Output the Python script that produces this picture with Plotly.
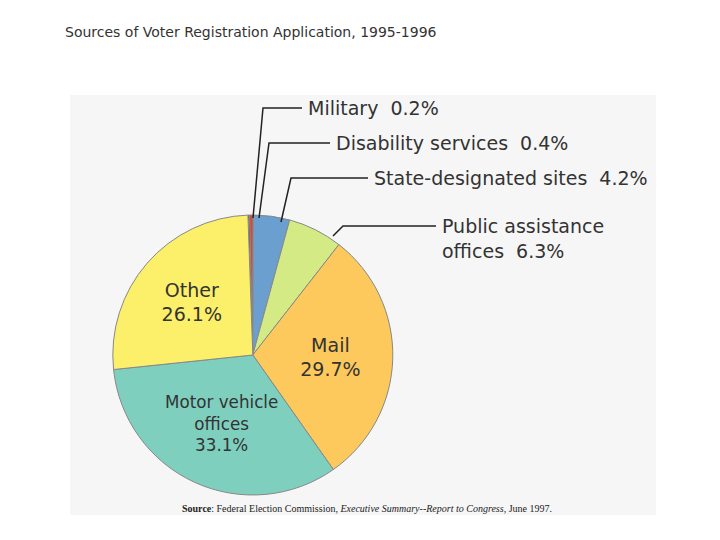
import plotly.graph_objects as go

sources = ["Military", "Disability services", "State-designated sites", "Public assistance offices",
           "Mail", "Motor vehicle offices", "Other"]
shares = [0.2, 0.4, 4.2, 6.3, 29.7, 33.1, 26.1]
inside_text = ["", "", "", "", "Mail<br>29.7%", "Motor vehicle<br>offices<br>33.1%", "Other<br>26.1%"]
colours = ["#4a4a4a", "#d9453a", "#6a9fcf", "#d4eb85", "#fdc95c", "#7fcfbf", "#fcef6a"]

DEC = 8  # décalage vertical de la page


def py(y):
    return 1 - (y - DEC) / 540


fig = go.Figure(go.Pie(
    labels=sources, values=shares, text=inside_text, textinfo="text",
    textposition="inside", insidetextorientation="horizontal",
    sort=False, direction="clockwise", rotation=-2,
    marker=dict(colors=colours, line=dict(color="#888888", width=1)),
    textfont=dict(family="DejaVu Sans", size=19, color="#333333"),
    domain=dict(x=[0.10, 0.58], y=[py(495), py(215)]),
    showlegend=False, hoverinfo="label+value",
))

# fond gris de l'image
fig.add_shape(type="rect", xref="paper", yref="paper", x0=62/720, x1=648/720,
              y0=py(515), y1=py(95), fillcolor="#f6f6f6", line_width=0, layer="below")

# étiquettes des petites parts avec leurs traits
petites = [
    ("Military  0.2%", 298, 108, 245, 218, 108),
    ("Disability services  0.4%", 326, 143, 251, 218, 143),
    ("State-designated sites  4.2%", 364, 178, 273, 222, 178),
    ("Public assistance<br>offices  6.3%", 432, 238, 325, 236, 226),
]
for texte, tx, ty, px_, py_, ly in petites:
    fig.add_annotation(text=texte, x=tx/720, y=py(ty), xref="paper", yref="paper",
                       xanchor="left", yanchor="middle", showarrow=False, align="left",
                       font=dict(family="DejaVu Sans", size=19, color="#333333"))
    fig.add_shape(type="path", xref="paper", yref="paper",
                  path=f"M {(tx-4)/720} {py(ly)} L {(px_+10)/720} {py(ly)} L {px_/720} {py(py_)}",
                  line=dict(color="#222222", width=1.5))

fig.add_annotation(text="Sources of Voter Registration Application, 1995-1996", x=55/720, y=py(32),
                   xref="paper", yref="paper", xanchor="left", yanchor="middle", showarrow=False,
                   font=dict(family="DejaVu Sans", size=14, color="#333333"))
fig.add_annotation(text="<b>Source</b>: Federal Election Commission, <i>Executive Summary--Report to Congress</i>, June 1997.",
                   x=172/720, y=py(508), xref="paper", yref="paper", xanchor="left", yanchor="middle",
                   showarrow=False, font=dict(family="Liberation Serif", size=10, color="#222222"))

fig.update_layout(width=720, height=540, margin=dict(l=0, r=0, t=0, b=0),
                  paper_bgcolor="white", plot_bgcolor="white")
fig.write_html("out.html")
